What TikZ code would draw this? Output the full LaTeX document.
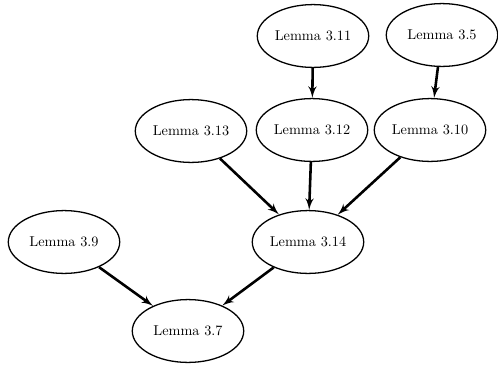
\documentclass[tikz,border=0pt]{standalone}
\usepackage{tikz}
\usetikzlibrary{shapes,arrows}
\tikzstyle{lemma} = [ellipse, draw, line width=0.9pt, minimum width=78pt, minimum height=44pt, inner sep=0pt]
\tikzstyle{line} = [draw, -latex', line width=1.8pt]
\begin{document}
\begin{tikzpicture}[x=0.7pt, y=-0.7pt]
    \useasboundingbox (0,0) rectangle (498,368);
    % Place nodes
    \node [lemma] (l311) at (313,36) {Lemma 3.11};
    \node [lemma] (l35) at (442,35) {Lemma 3.5};
    \node [lemma] (l313) at (191,131) {Lemma 3.13};
    \node [lemma] (l312) at (312,130) {Lemma 3.12};
    \node [lemma] (l310) at (430,130) {Lemma 3.10};
    \node [lemma] (l39) at (64,242) {Lemma 3.9};
    \node [lemma] (l314) at (308,242) {Lemma 3.14};
    \node [lemma] (l37) at (188,331) {Lemma 3.7};
    % Draw edges
    \path [line] (l311) -- (l312);
    \path [line] (l35) -- (l310);
    \path [line] (l313) -- (l314);
    \path [line] (l312) -- (l314);
    \path [line] (l310) -- (l314);
    \path [line] (l39) -- (l37);
    \path [line] (l314) -- (l37);
\end{tikzpicture}
\end{document}
